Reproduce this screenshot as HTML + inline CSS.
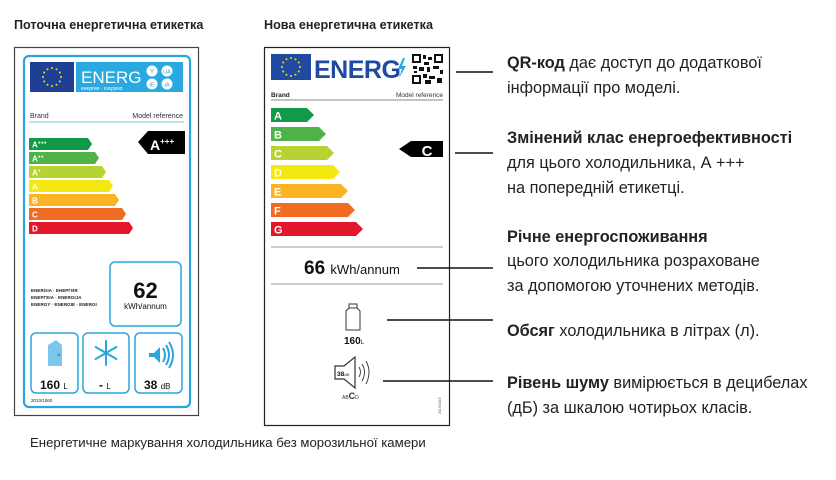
<!DOCTYPE html>
<html><head><meta charset="utf-8"><style>
html,body{margin:0;padding:0;background:#fff;}
svg{display:block;}
text{font-family:"Liberation Sans",sans-serif;}
</style></head><body>
<svg width="836" height="480" viewBox="0 0 836 480" xmlns="http://www.w3.org/2000/svg">
<defs>
<g id="stars" fill="#f5e400">
<circle cx="0" cy="-9" r="1"/><circle cx="4.5" cy="-7.8" r="1"/><circle cx="7.8" cy="-4.5" r="1"/><circle cx="9" cy="0" r="1"/><circle cx="7.8" cy="4.5" r="1"/><circle cx="4.5" cy="7.8" r="1"/><circle cx="0" cy="9" r="1"/><circle cx="-4.5" cy="7.8" r="1"/><circle cx="-7.8" cy="4.5" r="1"/><circle cx="-9" cy="0" r="1"/><circle cx="-7.8" cy="-4.5" r="1"/><circle cx="-4.5" cy="-7.8" r="1"/>
</g>
</defs>

<!-- titles -->
<text x="14" y="29" font-size="12.6" font-weight="bold" fill="#222">Поточна енергетична етикетка</text>
<text x="264" y="29" font-size="12.6" font-weight="bold" fill="#222">Нова енергетична етикетка</text>

<!-- LEFT LABEL -->
<rect x="14.5" y="47.5" width="184" height="368" fill="#fff" stroke="#444" stroke-width="1.2"/>
<rect x="24" y="56" width="166" height="351" rx="5" fill="#fff" stroke="#2aa6dd" stroke-width="2.2"/>
<rect x="30" y="62" width="44" height="30" fill="#1f3f95"/>
<use href="#stars" transform="translate(52,77)"/>
<rect x="76" y="62" width="107" height="30" fill="#29a9e0"/>
<text x="81" y="83" font-size="17" fill="#fff">ENERG</text>
<text x="81" y="90" font-size="5" fill="#fff">енергия · ενεργεια</text>
<circle cx="152" cy="71" r="5.5" fill="#fff"/><text x="152" y="73.5" font-size="6" fill="#29a9e0" text-anchor="middle">Y</text>
<circle cx="167" cy="71" r="5.5" fill="#fff"/><text x="167" y="73.5" font-size="5.5" fill="#29a9e0" text-anchor="middle">UA</text>
<circle cx="152" cy="84" r="5.5" fill="#fff"/><text x="152" y="86.5" font-size="5.5" fill="#29a9e0" text-anchor="middle">IE</text>
<circle cx="167" cy="84" r="5.5" fill="#fff"/><text x="167" y="86.5" font-size="5.5" fill="#29a9e0" text-anchor="middle">IA</text>
<text x="30" y="118" font-size="7" fill="#333">Brand</text>
<text x="183" y="118" font-size="7" fill="#333" text-anchor="end">Model reference</text>
<line x1="29" y1="122" x2="184" y2="122" stroke="#9cd2e8" stroke-width="1.2"/>
<g font-size="8" font-weight="bold" fill="#fff">
<polygon points="29,138 88,138 92,144 88,150 29,150" fill="#119a47"/><text x="32" y="147.5">A<tspan font-size="5" dy="-3">+++</tspan></text>
<polygon points="29,152 95,152 99,158 95,164 29,164" fill="#4fb348"/><text x="32" y="161.5">A<tspan font-size="5" dy="-3">++</tspan></text>
<polygon points="29,166 102,166 106,172 102,178 29,178" fill="#b6d233"/><text x="32" y="175.5">A<tspan font-size="5" dy="-3">+</tspan></text>
<polygon points="29,180 109,180 113,186 109,192 29,192" fill="#f3e911"/><text x="32" y="189.5">A</text>
<polygon points="29,194 115,194 119,200 115,206 29,206" fill="#fbb423"/><text x="32" y="203.5">B</text>
<polygon points="29,208 122,208 126,214 122,220 29,220" fill="#f06c23"/><text x="32" y="217.5">C</text>
<polygon points="29,222 129,222 133,228 129,234 29,234" fill="#e3172a"/><text x="32" y="231.5">D</text>
</g>
<polygon points="138,142 148,131 185,131 185,154 148,154" fill="#000"/>
<text x="150" y="150" font-size="14" font-weight="bold" fill="#fff">A<tspan font-size="8" dy="-6">+++</tspan></text>
<rect x="110" y="262" width="71" height="64" rx="5" fill="#fff" stroke="#2aa6dd" stroke-width="1.5"/>
<text x="145.5" y="298" font-size="22" font-weight="bold" fill="#111" text-anchor="middle">62</text>
<text x="145.5" y="309" font-size="8" fill="#111" text-anchor="middle">kWh/annum</text>
<g font-size="4.6" fill="#222" font-weight="bold">
<text x="31" y="292">ENERGIA · ЕНЕРГИЯ</text>
<text x="31" y="299">ΕΝΕΡΓΕΙΑ · ENERGIJA</text>
<text x="31" y="306">ENERGY · ENERGIE · ENERGI</text>
</g>
<rect x="31" y="333" width="47" height="60" rx="5" fill="#fff" stroke="#2aa6dd" stroke-width="1.5"/>
<rect x="83" y="333" width="46" height="60" rx="5" fill="#fff" stroke="#2aa6dd" stroke-width="1.5"/>
<rect x="135" y="333" width="47" height="60" rx="5" fill="#fff" stroke="#2aa6dd" stroke-width="1.5"/>
<polygon points="48,345 56,340 62,345 62,366 48,366" fill="#7cc8ec"/>
<text x="57" y="356" font-size="4" fill="#1f3f95">1L</text>
<g stroke="#2aa6dd" stroke-width="2" stroke-linecap="round">
<line x1="106" y1="341" x2="106" y2="365"/><line x1="95.6" y1="347" x2="116.4" y2="359"/><line x1="95.6" y1="359" x2="116.4" y2="347"/>
</g>
<polygon points="149,353 154,353 160,347 160,363 154,357 149,357" fill="#2aa6dd"/>
<path d="M163,348 Q167,355 163,362 M166,345 Q172,355 166,365 M169,342 Q177,355 169,368" fill="none" stroke="#2aa6dd" stroke-width="2"/>
<text x="40" y="389" font-size="12" font-weight="bold" fill="#111">160 <tspan font-size="8" font-weight="normal">L</tspan></text>
<text x="99" y="389" font-size="12" font-weight="bold" fill="#111">- <tspan font-size="8" font-weight="normal">L</tspan></text>
<text x="144" y="389" font-size="12" font-weight="bold" fill="#111">38 <tspan font-size="8" font-weight="normal">dB</tspan></text>
<text x="31" y="402" font-size="4.5" fill="#222">2010/1060</text>

<!-- RIGHT LABEL -->
<rect x="264.5" y="47.5" width="185" height="378" fill="#fff" stroke="#222" stroke-width="1.2"/>
<rect x="271" y="54" width="40" height="26" fill="#1f4aa0"/>
<use href="#stars" transform="translate(291,67)"/>
<text x="314" y="78" font-size="25" font-weight="bold" fill="#1f4aa0" letter-spacing="-0.5">ENERG</text>
<polygon points="403,58 398,69 402,69 399,78 406,66 402,66 405,58" fill="#29a9e0"/>
<rect x="412" y="54" width="31" height="30" fill="#fff"/>
<g fill="#111">
<rect x="412" y="54" width="9" height="9"/><rect x="434" y="54" width="9" height="9"/><rect x="412" y="75" width="9" height="9"/>
<rect x="414" y="56" width="5" height="5" fill="#fff"/><rect x="436" y="56" width="5" height="5" fill="#fff"/><rect x="414" y="77" width="5" height="5" fill="#fff"/>
<rect x="423" y="55" width="3" height="4"/><rect x="428" y="57" width="4" height="3"/><rect x="424" y="62" width="5" height="3"/>
<rect x="413" y="66" width="4" height="3"/><rect x="419" y="67" width="5" height="4"/><rect x="427" y="67" width="3" height="5"/><rect x="433" y="66" width="6" height="3"/><rect x="440" y="70" width="3" height="4"/>
<rect x="423" y="74" width="4" height="4"/><rect x="429" y="76" width="6" height="3"/><rect x="437" y="78" width="5" height="5"/><rect x="425" y="80" width="6" height="4"/><rect x="414" y="71" width="3" height="2"/>
</g>
<text x="271" y="97" font-size="6.5" font-weight="bold" fill="#222">Brand</text>
<text x="443" y="97" font-size="6.5" fill="#333" text-anchor="end">Model reference</text>
<line x1="271" y1="100" x2="443" y2="100" stroke="#888" stroke-width="1"/>
<g font-size="11" font-weight="bold" fill="#fff">
<polygon points="271,108 307,108 314,115 307,122 271,122" fill="#119a47"/><text x="274" y="119.5">A</text>
<polygon points="271,127 319,127 326,134 319,141 271,141" fill="#4fb348"/><text x="274" y="138.5">B</text>
<polygon points="271,146 327,146 334,153 327,160 271,160" fill="#b6d233"/><text x="274" y="157.5">C</text>
<polygon points="271,165 333,165 340,172 333,179 271,179" fill="#f3e911"/><text x="274" y="176.5">D</text>
<polygon points="271,184 341,184 348,191 341,198 271,198" fill="#fbb423"/><text x="274" y="195.5">E</text>
<polygon points="271,203 348,203 355,210 348,217 271,217" fill="#f06c23"/><text x="274" y="214.5">F</text>
<polygon points="271,222 356,222 363,229 356,236 271,236" fill="#e3172a"/><text x="274" y="233.5">G</text>
</g>
<polygon points="399,149 411,141 443,141 443,157 411,157" fill="#000"/>
<text x="427" y="156" font-size="15" font-weight="bold" fill="#fff" text-anchor="middle">C</text>
<line x1="271" y1="247" x2="443" y2="247" stroke="#999" stroke-width="1"/>
<line x1="271" y1="284" x2="443" y2="284" stroke="#999" stroke-width="1"/>
<text x="304" y="274" font-size="19" font-weight="bold" fill="#111">66 <tspan font-size="13" font-weight="normal">kWh/annum</tspan></text>
<path d="M349,304 h8 v4 l3,3 v19 h-14 v-19 l3,-3 z M349,308 h8" fill="none" stroke="#333" stroke-width="1"/>
<text x="344" y="344" font-size="10" font-weight="bold" fill="#111">160<tspan font-size="6" font-weight="normal">L</tspan></text>
<path d="M335,366 h9 l11,-9 v31 l-11,-9 h-9 z" fill="none" stroke="#333" stroke-width="1.2"/>
<text x="337" y="376" font-size="6.5" font-weight="bold" fill="#111">38<tspan font-size="4" font-weight="normal">dB</tspan></text>
<path d="M359,367 Q362,372 359,377 M362,364 Q367,372 362,381 M366,361 Q372,372 366,384" fill="none" stroke="#333" stroke-width="0.9"/>
<text x="342" y="399" font-size="5" fill="#333">AB<tspan font-size="9" font-weight="bold">C</tspan>D</text>
<text x="0" y="0" font-size="3.5" fill="#555" transform="translate(441,414) rotate(-90)">2019/2016</text>

<!-- connectors -->
<g stroke="#111" stroke-width="1.5">
<line x1="456" y1="72" x2="493" y2="72"/>
<line x1="455" y1="153" x2="493" y2="153"/>
<line x1="417" y1="268" x2="493" y2="268"/>
<line x1="387" y1="320" x2="493" y2="320"/>
<line x1="383" y1="381" x2="493" y2="381"/>
</g>

<!-- right text -->
<g font-size="16.3" fill="#222">
<text x="507" y="68"><tspan font-weight="bold">QR-код</tspan> дає доступ до додаткової</text>
<text x="507" y="93">інформації про моделі.</text>
<text x="507" y="143" font-weight="bold">Змінений клас енергоефективності</text>
<text x="507" y="168">для цього холодильника, А +++</text>
<text x="507" y="193">на попередній етикетці.</text>
<text x="507" y="242" font-weight="bold">Річне енергоспоживання</text>
<text x="507" y="266">цього холодильника розраховане</text>
<text x="507" y="291">за допомогою уточнених методів.</text>
<text x="507" y="336"><tspan font-weight="bold">Обсяг</tspan> холодильника в літрах (л).</text>
<text x="507" y="388"><tspan font-weight="bold">Рівень шуму</tspan> вимірюється в децибелах</text>
<text x="507" y="413">(дБ) за шкалою чотирьох класів.</text>
</g>

<text x="30" y="447" font-size="13.2" fill="#222">Енергетичне маркування холодильника без морозильної камери</text>
</svg>
</body></html>
